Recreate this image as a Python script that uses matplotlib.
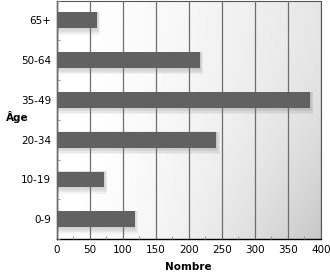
import numpy as np
import matplotlib
matplotlib.use("Agg")
import matplotlib.pyplot as plt
from matplotlib.ticker import MultipleLocator

categories = ["0-9", "10-19", "20-34", "35-49", "50-64", "65+"]
counts = [118, 72, 242, 384, 217, 61]

bar_color = "#616161"

fig = plt.figure(figsize=(3.3, 2.72), dpi=100)
ax = fig.add_axes([0.172, 0.121, 0.800, 0.877])

xmax = 400
ax.set_xlim(0, xmax)
ax.set_ylim(-0.5, len(categories) - 0.5)

# background gradient: white on the left, grey towards the bottom right
gx = np.linspace(0, 1, 200)
gy = np.linspace(0, 1, 200)
X, Y = np.meshgrid(gx, gy)
shade = 1.0 - 0.10 * X ** 1.5 - 0.12 * (X * Y) ** 2
ax.imshow(shade, cmap="gray", vmin=0, vmax=1, aspect="auto",
          extent=[0, xmax, -0.5, len(categories) - 0.5], origin="upper", zorder=0)

ax.grid(axis="x", color="#6e6e6e", linewidth=0.9, zorder=1)
ax.set_axisbelow(False)

y = np.arange(len(categories))
# soft shadow behind the bars
for k in range(1, 5):
    ax.barh(y - 0.02 * k, [c + 1.2 * k for c in counts], height=0.42 + 0.035 * k,
            color="black", alpha=0.045, linewidth=0, zorder=2)
ax.barh(y, counts, height=0.40, color=bar_color, linewidth=0, zorder=3)

ax.set_yticks(y)
ax.set_yticklabels(categories)
ax.xaxis.set_major_locator(MultipleLocator(50))
ax.xaxis.set_minor_locator(MultipleLocator(25))
ax.yaxis.set_minor_locator(MultipleLocator(0.5))
ax.tick_params(axis="both", which="major", length=0, labelsize=7.5, colors="black", pad=4)
ax.tick_params(axis="x", which="minor", direction="in", length=2.5, color="#888888")
ax.tick_params(axis="y", which="minor", direction="in", length=2.5, color="#888888")

for side in ["left", "bottom"]:
    ax.spines[side].set_color("black")
    ax.spines[side].set_linewidth(1.0)
ax.spines["top"].set_color("#555555")
ax.spines["right"].set_color("#555555")

ax.set_xlabel("Nombre", fontsize=7.5, fontweight="bold", labelpad=5)
ax.set_ylabel("Âge", fontsize=7.5, fontweight="bold", rotation=0, labelpad=0)
ax.yaxis.set_label_coords(-0.15, 0.485)

fig.savefig("out.png", dpi=100)
